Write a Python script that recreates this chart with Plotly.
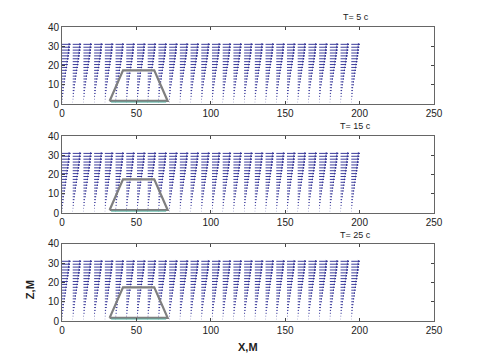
import numpy as np
import plotly.graph_objects as go
import plotly.figure_factory as ff
from plotly.subplots import make_subplots

# ---- data ----
times = ["T= 5 c", "T= 15 c", "T= 25 c"]
x_cols = [0, 7.2, 14.4, 21.6, 28.8, 36.0, 43.2, 50.4, 57.6, 64.8, 72.0, 79.2, 86.4, 93.6,
          100.8, 108.0, 115.2, 122.4, 129.6, 136.8, 144.0, 151.2, 158.4, 165.6, 172.8, 180.0,
          187.2, 194.4]
z_rows = [1, 2.5, 4, 5.5, 7, 8.5, 10, 11.5, 13, 14.5, 16, 17.5, 19, 20.5, 22, 23.5, 25,
          26.5, 28, 29.5, 31]
u_t5 = [0.2, 0.4, 0.6, 0.8, 1.0, 1.2, 1.5, 1.8, 2.1, 2.4, 2.7, 3.0, 3.4, 3.7, 4.0, 4.3,
        4.6, 4.9, 5.1, 5.3, 5.6]
u_t15 = [0.2, 0.4, 0.6, 0.8, 1.0, 1.3, 1.6, 1.9, 2.2, 2.5, 2.8, 3.1, 3.4, 3.7, 4.0, 4.3,
         4.6, 4.9, 5.1, 5.3, 5.6]
u_t25 = [0.2, 0.4, 0.6, 0.8, 1.1, 1.3, 1.6, 1.9, 2.2, 2.5, 2.8, 3.1, 3.4, 3.7, 4.0, 4.3,
         4.6, 4.9, 5.1, 5.3, 5.6]
u_all = [u_t5, u_t15, u_t25]
trap_x = [32, 41, 62, 71, 32]
trap_z = [1.6, 17.5, 17.5, 1.6, 1.6]
base_x = [33, 70]
base_z = [1.0, 1.0]
x_ticks = [0, 50, 100, 150, 200, 250]
z_ticks = [0, 10, 20, 30, 40]

fig = make_subplots(rows=3, cols=1, vertical_spacing=0.1)

for i, u_prof in enumerate(u_all):
    X, Z = np.meshgrid(x_cols, z_rows)
    U = np.tile(np.array(u_prof)[:, None], (1, len(x_cols)))
    W = np.zeros_like(U)
    q = ff.create_quiver(X.ravel(), Z.ravel(), U.ravel(), W.ravel(), scale=1,
                         arrow_scale=0.22, angle=np.pi / 9,
                         line=dict(color="#262690", width=0.9))
    tr = q.data[0]
    tr.showlegend = False
    tr.hoverinfo = "skip"
    fig.add_trace(tr, row=i + 1, col=1)
    fig.add_trace(go.Scatter(x=trap_x, y=trap_z, mode="lines",
                             line=dict(color="#7f7f7f", width=2.2),
                             showlegend=False), row=i + 1, col=1)
    fig.add_trace(go.Scatter(x=base_x, y=base_z, mode="lines",
                             line=dict(color="#5fb8a8", width=1),
                             showlegend=False), row=i + 1, col=1)

domains = [[0.738, 1.0], [0.367, 0.629], [0.0, 0.262]]
title_y = [1.034, 0.663, 0.293]
for i in range(3):
    xa = "xaxis" if i == 0 else f"xaxis{i+1}"
    ya = "yaxis" if i == 0 else f"yaxis{i+1}"
    fig.layout[xa].update(range=[0, 250], tickvals=x_ticks, ticks="inside", ticklen=3,
                          showline=True, mirror="ticks", linecolor="#666", linewidth=1,
                          showgrid=False, zeroline=False, domain=[0, 1], automargin=False,
                          tickfont=dict(family="Arial", size=10, color="#222"))
    fig.layout[ya].update(range=[0, 40], tickvals=z_ticks, ticks="inside", ticklen=3,
                          showline=True, mirror="ticks", linecolor="#666", linewidth=1,
                          showgrid=False, zeroline=False, domain=domains[i], automargin=False,
                          tickfont=dict(family="Arial", size=10, color="#222"))
    fig.add_annotation(text=times[i], xref="paper", yref="paper", x=0.79, y=title_y[i],
                       xanchor="center", yanchor="middle", showarrow=False,
                       font=dict(family="Arial", size=9, color="#222"))

fig.add_annotation(text="<b>Z,M</b>", xref="paper", yref="paper", x=-0.086, y=0.105,
                   xanchor="center", yanchor="middle", textangle=-90, showarrow=False,
                   font=dict(family="Arial", size=11, color="#222"))
fig.add_annotation(text="<b>X,M</b>", xref="paper", yref="paper", x=0.50, y=-0.088,
                   xanchor="center", yanchor="middle", showarrow=False,
                   font=dict(family="Arial", size=11, color="#222"))

fig.update_layout(width=480, height=361, margin=dict(l=62, r=46, t=27, b=40),
                  paper_bgcolor="white", plot_bgcolor="white", showlegend=False)
fig.write_html("out.html", config={"displayModeBar": False},
               post_script="document.body.style.margin='0';document.body.style.overflow='hidden';")
